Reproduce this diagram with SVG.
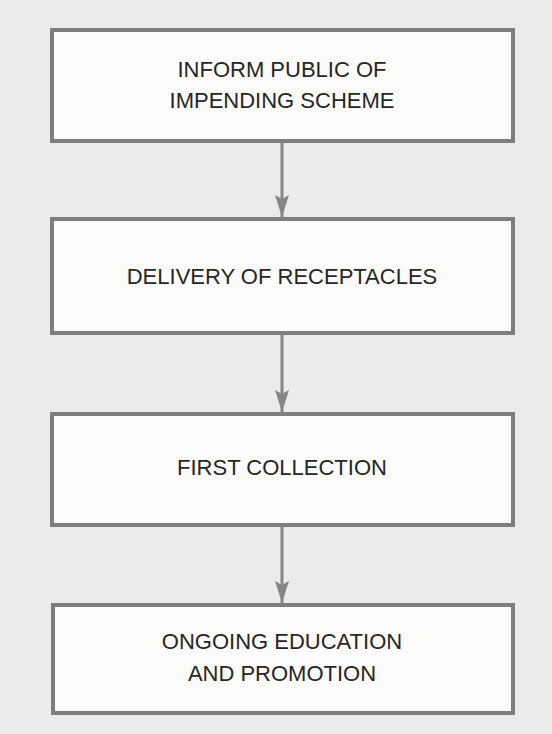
<svg xmlns="http://www.w3.org/2000/svg" width="552" height="734" viewBox="0 0 552 734">
  <style>
    .box { fill: #fbfbfa; stroke: #7e7e7e; stroke-width: 4; }
    .label { font-family: "Liberation Sans", Arial, sans-serif; font-size: 22px; fill: #262626; text-anchor: middle; }
    .flow { stroke: #868686; stroke-width: 3; fill: none; }
  </style>
  <defs>
    <!-- arrowhead drawn pointing along +x; orient="auto" turns it to the line direction -->
    <marker id="head" markerUnits="userSpaceOnUse" markerWidth="22" markerHeight="14" refX="22" refY="7" orient="auto" viewBox="0 0 22 14">
      <path d="M0,0 L22,7 L0,14 L4,7 Z" fill="#868686"/>
    </marker>
  </defs>

  <!-- page -->
  <rect x="0" y="0" width="552" height="734" fill="#ebebea"/>

  <!-- connectors -->
  <g id="connectors">
    <line class="flow" x1="282" y1="143" x2="282" y2="217" marker-end="url(#head)"/>
    <line class="flow" x1="282" y1="335" x2="282" y2="412" marker-end="url(#head)"/>
    <line class="flow" x1="282" y1="527" x2="282" y2="603" marker-end="url(#head)"/>
  </g>

  <!-- step 1 -->
  <g id="inform-public">
    <rect class="box" x="52" y="30" width="461" height="111"/>
    <text class="label" x="282" y="77">INFORM PUBLIC OF</text>
    <text class="label" x="282" y="108">IMPENDING SCHEME</text>
  </g>

  <!-- step 2 -->
  <g id="delivery">
    <rect class="box" x="52" y="219" width="461" height="114"/>
    <text class="label" x="282" y="284">DELIVERY OF RECEPTACLES</text>
  </g>

  <!-- step 3 -->
  <g id="first-collection">
    <rect class="box" x="52" y="414" width="461" height="111"/>
    <text class="label" x="282" y="475">FIRST COLLECTION</text>
  </g>

  <!-- step 4 -->
  <g id="ongoing-education">
    <rect class="box" x="53" y="605" width="460" height="108"/>
    <text class="label" x="282" y="649">ONGOING EDUCATION</text>
    <text class="label" x="282" y="681">AND PROMOTION</text>
  </g>
</svg>
